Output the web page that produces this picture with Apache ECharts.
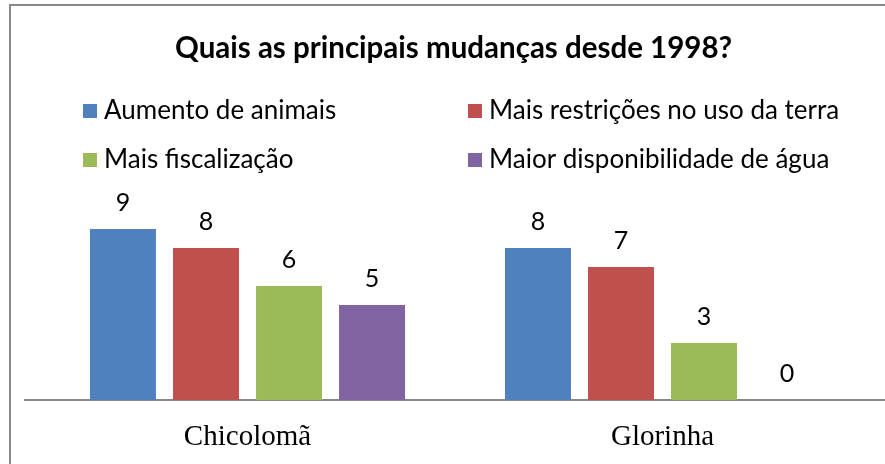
<!DOCTYPE html>
<html>
<head>
<meta charset="utf-8">
<script src="https://cdn.jsdelivr.net/npm/echarts@6/dist/echarts.min.js"></script>
<style>
html,body{margin:0;padding:0;background:#fff;}
#chart{width:885px;height:464px;}
</style>
</head>
<body>
<div id="chart"></div>
<script>
const titleText = 'Quais as principais mudanças desde 1998?';
const categories = ['Chicolomã', 'Glorinha'];
const seriesNames = ['Aumento de animais', 'Mais restrições no uso da terra', 'Mais fiscalização', 'Maior disponibilidade de água'];
const seriesColors = ['#4F81BD', '#C0504D', '#9BBB59', '#8064A2'];
const aumentoAnimais = [9, 8];
const maisRestricoes = [8, 7];
const maisFiscalizacao = [6, 3];
const maiorDisponibilidade = [5, 0];
const seriesValues = [aumentoAnimais, maisRestricoes, maisFiscalizacao, maiorDisponibilidade];

const legendFont = 'Lato';
const legendPos = [
  {left: 83, top: 98},
  {left: 468, top: 98},
  {left: 83, top: 147},
  {left: 468, top: 147}
];

const chart = echarts.init(document.getElementById('chart'));
chart.setOption({
  animation: false,
  backgroundColor: '#fff',
  title: {
    text: titleText,
    left: 170,
    top: 28,
    textStyle: {fontFamily: 'Lato', fontWeight: 'bold', fontSize: 29.5, color: '#000'}
  },
  legend: seriesNames.map((n, i) => ({
    data: [n],
    left: legendPos[i].left,
    top: legendPos[i].top,
    icon: 'rect',
    itemWidth: 14,
    itemHeight: 14,
    itemGap: 0,
    padding: 0,
    selectedMode: false,
    textStyle: {fontFamily: legendFont, fontSize: 26, color: '#000', padding: [0, 0, 0, 2]}
  })),
  grid: {left: 40, right: 15, top: 210, bottom: 64, containLabel: false},
  xAxis: {
    type: 'category',
    data: categories,
    axisLine: {show: false},
    axisTick: {show: false},
    axisLabel: {fontFamily: 'Liberation Serif', fontSize: 29, color: '#000', margin: 23}
  },
  yAxis: {
    type: 'value',
    min: 0,
    max: 10,
    show: false,
    splitLine: {show: false}
  },
  graphic: [
    {type: 'rect', shape: {x: 10, y: 5, width: 890, height: 480}, style: {fill: 'none', stroke: '#888', lineWidth: 2}, silent: true},
    {type: 'line', shape: {x1: 24, y1: 400, x2: 885, y2: 400}, style: {stroke: '#888', lineWidth: 2}, silent: true}
  ],
  series: seriesNames.map((n, i) => ({
    name: n,
    type: 'bar',
    data: seriesValues[i],
    barWidth: 66,
    barGap: '25.8%',
    itemStyle: {color: seriesColors[i]},
    label: {
      show: true,
      position: 'top',
      distance: 14,
      fontFamily: legendFont,
      fontSize: 25,
      color: '#000'
    }
  }))
});
</script>
</body>
</html>
